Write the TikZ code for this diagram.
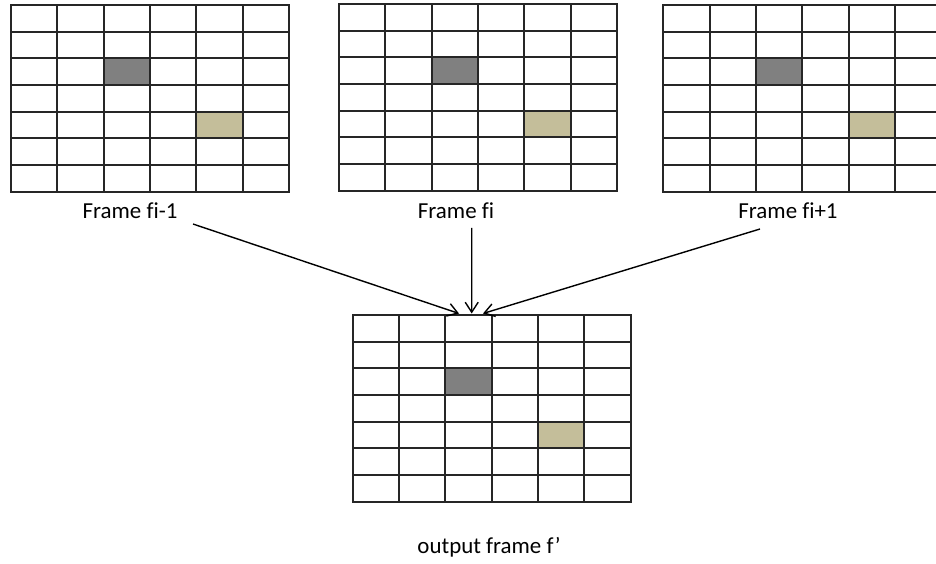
\documentclass[tikz,border=0pt]{standalone}
\usepackage{fontspec}
\setmainfont{Carlito}[Ligatures=NoCommon]
\usetikzlibrary{arrows.meta}

\definecolor{cellgray}{HTML}{808080}
\definecolor{celltan}{HTML}{C4BE9A}
\definecolor{gridink}{HTML}{262626}

\newcommand\cw{46.33}
\newcommand\rh{26.67}

% inner cells of a 6x7 frame grid: two marked pixels and the separating lines
\newcommand\gridcells[1]{%
  \fill[cellgray] ([shift={(2*\cw,2*\rh)}]#1.north west) rectangle ([shift={(3*\cw,3*\rh)}]#1.north west);
  \fill[celltan] ([shift={(4*\cw,4*\rh)}]#1.north west) rectangle ([shift={(5*\cw,5*\rh)}]#1.north west);
  \foreach \i in {1,...,5}
    \draw[cellline] ([shift={(\i*\cw,0)}]#1.north west) -- ([shift={(\i*\cw,0)}]#1.south west);
  \foreach \j in {1,...,6}
    \draw[cellline] ([shift={(0,\j*\rh)}]#1.north west) -- ([shift={(0,\j*\rh)}]#1.north east);
}

\tikzset{
  cellline/.style={draw=gridink, line width=1.8bp},
  framebox/.style={draw=gridink, line width=1.8bp, minimum width=278bp,
    minimum height=186.7bp, inner sep=0pt, outer sep=0pt, anchor=north west},
  framelabel/.style={anchor=base, inner sep=0pt,
    font=\fontsize{23}{27}\selectfont},
  feed/.style={draw=black, line width=1.4bp,
    -{Straight Barb[length=10bp,width=13bp,line width=1.4bp]}}
}

\begin{document}
\begin{tikzpicture}[x=1bp,y=-1bp]
\useasboundingbox (0,0) rectangle (936,564);
\clip (0,0) rectangle (936,564);
\fill[white] (0,0) rectangle (936,564);

% input frames and the output frame
\node[framebox] (prev) at (11,5) {};
\node[framebox] (cur)  at (339,4) {};
\node[framebox] (next) at (663.3,5) {};
\node[framebox] (out)  at (352.7,315) {};
\gridcells{prev}
\gridcells{cur}
\gridcells{next}
\gridcells{out}

% captions
\node[framelabel] (lprev) at (130,219) {Frame fi-1};
\node[framelabel] (lcur)  at (456,219) {Frame fi};
\node[framelabel] (lnext) at (788,219) {Frame fi+1};
\node[framelabel] (lout)  at (489,553) {output frame f’};

% arrows from each input frame into the output frame
\coordinate (sprev) at (193,224);
\coordinate (scur)  at (471.7,228);
\coordinate (snext) at (760,229);
\coordinate (tprev) at ([xshift=-32.7bp,yshift=1.5bp]out.north);
\coordinate (tcur)  at ([xshift=-20bp,yshift=1.5bp]out.north);
\coordinate (tnext) at ([xshift=-8.7bp,yshift=1.5bp]out.north);
\draw[feed] (sprev) -- (tprev);
\draw[feed] (scur) -- (tcur);
\draw[feed] (snext) -- (tnext);
\end{tikzpicture}
\end{document}
